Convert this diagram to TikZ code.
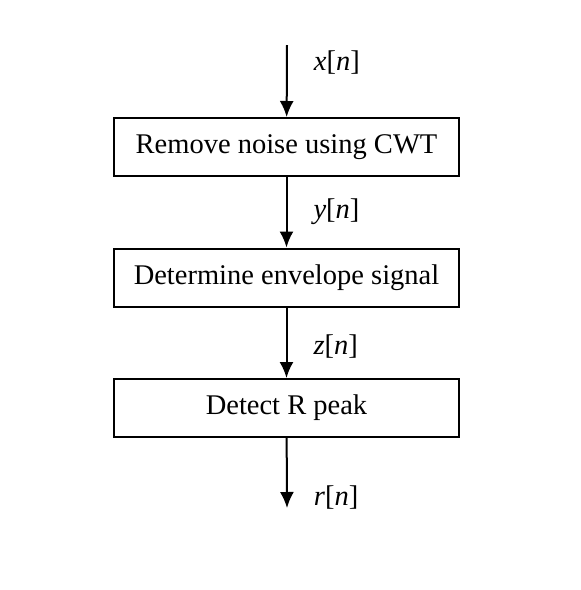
\documentclass[tikz,border=0pt]{standalone}
\usepackage{fontspec}
\setmainfont{Liberation Serif}
\usepackage{tikz}
\usetikzlibrary{arrows.meta}
\newcommand{\sig}[1]{\textit{#1}[\textit{n}]}

\begin{document}
\begin{tikzpicture}[->,>={Latex[length=16pt,width=14pt]},line width=2pt,
    x=1pt,y=1pt,node distance=130.5pt,
    every node/.style={font=\fontsize{28.5}{32}\selectfont},
    block/.style={draw,line width=2pt,minimum width=345pt,minimum height=58pt,inner sep=0pt},
    sig label/.style={right,inner sep=0pt,xshift=26pt}]
    \useasboundingbox (0,0) rectangle (581,-590);
    \node[block] (cwt) at (286.5,-147) {Remove noise using CWT};
    \node[block] (env) [below of=cwt] {Determine envelope signal};
    \node[block] (peak) [below of=env] {Detect R peak};
    \coordinate (in) at (287,-45);
    \coordinate (out) at (287,-508);
    \path
    (in) edge node[sig label, pos=0.25] {\sig{x}} (cwt)
    (cwt) edge node[sig label, pos=0.49] {\sig{y}} (env)
    (env) edge node[sig label, pos=0.55] {\sig{z}} (peak)
    (peak) edge node[sig label, pos=0.85] {\sig{r}} (out)
    ;
  \end{tikzpicture}
\end{document}
